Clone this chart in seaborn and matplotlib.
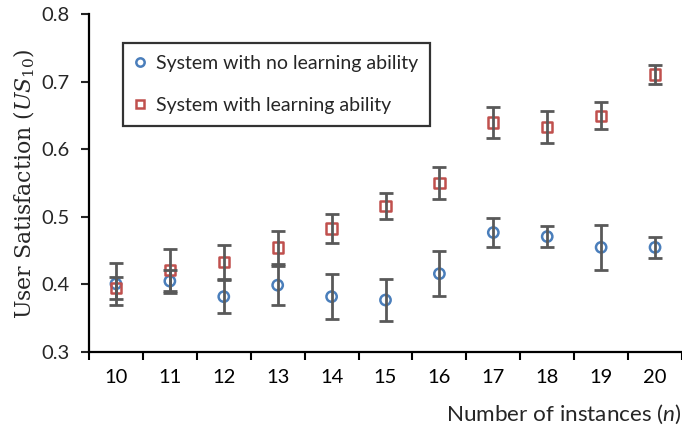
import numpy as np
import pandas as pd
import matplotlib
matplotlib.use("Agg")
import matplotlib.pyplot as plt
import seaborn as sns

# ---------------- Datos ----------------
instancias = [10, 11, 12, 13, 14, 15, 16, 17, 18, 19, 20]

sin_aprendizaje = [0.401, 0.405, 0.382, 0.399, 0.382, 0.377, 0.416, 0.477, 0.471, 0.455, 0.455]
err_sin = [0.031, 0.017, 0.024, 0.029, 0.033, 0.031, 0.033, 0.022, 0.016, 0.033, 0.016]

con_aprendizaje = [0.395, 0.421, 0.433, 0.455, 0.483, 0.516, 0.550, 0.640, 0.633, 0.650, 0.711]
err_con = [0.016, 0.031, 0.025, 0.024, 0.022, 0.019, 0.024, 0.023, 0.024, 0.020, 0.014]

etiquetas = ["System with no learning ability", "System with learning ability"]

# ---------------- Estilo ----------------
sns.set_style("ticks")
plt.rcParams["font.family"] = ["Lato", "DejaVu Sans"]
plt.rcParams["mathtext.fontset"] = "custom"
plt.rcParams["mathtext.it"] = "Lato:italic"
plt.rcParams["mathtext.rm"] = "Lato"

azul = "#4a7ebb"
rojo = "#c0504d"
gris = "#595959"

df = pd.DataFrame({
    "n": instancias * 2,
    "us": sin_aprendizaje + con_aprendizaje,
    "err": err_sin + err_con,
    "serie": [etiquetas[0]] * len(instancias) + [etiquetas[1]] * len(instancias),
})

fig = plt.figure(figsize=(6.82, 4.26), dpi=100)
ax = fig.add_axes([0.1305, 0.1737, 0.8695, 0.7923])

# Barras de error
for serie in etiquetas:
    d = df[df.serie == serie]
    ax.errorbar(d.n, d.us, yerr=d.err, fmt="none", ecolor=gris, elinewidth=2,
                capsize=5, capthick=2, zorder=3)

# Marcadores (huecos)
sns.scatterplot(data=df, x="n", y="us", hue="serie", style="serie",
                palette=[azul, rojo], markers=["o", "s"], hue_order=etiquetas,
                style_order=etiquetas, s=55, linewidth=1.8,
                ax=ax, zorder=2, legend=False)
cols = [azul if s == etiquetas[0] else rojo for s in df.serie]
ax.collections[-1].set_facecolor("none")
ax.collections[-1].set_edgecolor(cols)

# Ejes
ax.set_ylim(0.3, 0.8)
ax.set_yticks([0.3, 0.4, 0.5, 0.6, 0.7, 0.8])
ax.set_yticklabels(["0.3", "0.4", "0.5", "0.6", "0.7", "0.8"])
ax.set_xlim(9.5, 20.39)
ax.set_xticks(instancias)
ax.set_xticks(np.arange(9.5, 20.6, 1.0), minor=True)
ax.tick_params(axis="x", which="major", length=0, pad=12, labelsize=14.5, colors="black")
ax.tick_params(axis="x", which="minor", length=6, width=1.5, direction="out", color="black")
ax.tick_params(axis="y", length=6, width=1.5, direction="out", labelsize=14.5, pad=8)

sns.despine(ax=ax)
for lado in ["left", "bottom"]:
    ax.spines[lado].set_linewidth(1.6)
    ax.spines[lado].set_color("black")

ax.set_xlabel("Number of instances ($\\mathit{n}$)", fontsize=16.2)
ax.xaxis.set_label_coords(1.0, -0.15)
ax.xaxis.label.set_horizontalalignment("right")
ax.set_ylabel("User Satisfaction ($\\mathit{US}_{10}$)", fontsize=15.8,
              family=["DejaVu Serif"], math_fontfamily="dejavuserif")
ax.yaxis.set_label_coords(-0.087, 0.5)

# Leyenda
h1 = plt.Line2D([], [], marker="o", ls="none", mfc="none", mec=azul, mew=1.8, ms=6)
h2 = plt.Line2D([], [], marker="s", ls="none", mfc="none", mec=rojo, mew=1.8, ms=6)
leg = ax.legend([h1, h2], etiquetas, loc="upper left", bbox_to_anchor=(0.057, 0.915),
                fontsize=14, frameon=True, fancybox=False, handlelength=0.6,
                handletextpad=0.5, borderpad=0.6, labelspacing=1.3, borderaxespad=0)
leg.get_frame().set_edgecolor("black")
leg.get_frame().set_linewidth(1.6)

fig.savefig("out.png", dpi=100)
